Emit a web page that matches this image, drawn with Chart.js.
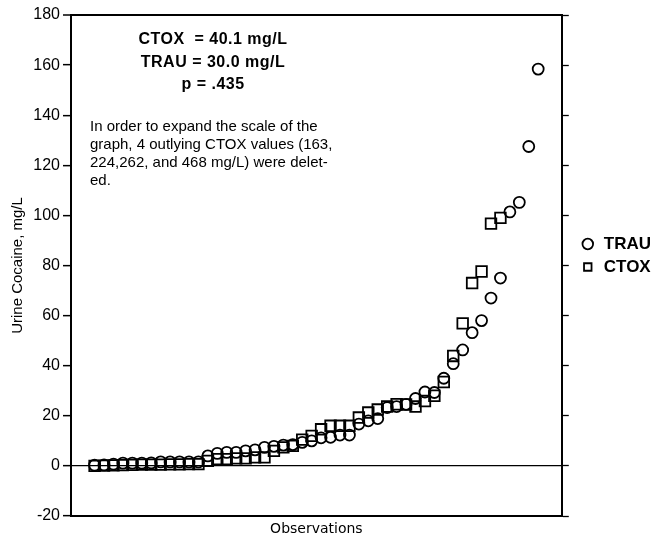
<!DOCTYPE html>
<html>
<head>
<meta charset="utf-8">
<script src="https://cdn.jsdelivr.net/npm/chart.js@4/dist/chart.umd.min.js"></script>
<style>
  html, body { margin: 0; padding: 0; background: #fff; }
  #wrap { width: 668px; height: 540px; }
</style>
</head>
<body>
<div id="wrap"><canvas id="urine"></canvas></div>
<script>
// sorted urine cocaine values, one point per observation
var trau = [0.3, 0.4, 0.7, 1.1, 1.1, 1.1, 1.2, 1.6, 1.6, 1.6, 1.6, 1.6,
  4, 5, 5.4, 5.4, 6, 6.4, 7.4, 7.8, 8.3, 8.5, 9.4, 10, 11.2, 11.4, 12.3, 12.3,
  16.7, 18, 18.9, 23.3, 23.7, 24.6, 26.9, 29.5, 29.3, 35, 40.8, 46.3, 53.2, 58,
  67, 75, 101.4, 105.2, 127.5, 158.4];
var ctox = [0, 0.1, 0.2, 0.3, 0.4, 0.5, 0.5, 0.5, 0.6, 0.6, 0.7, 0.7,
  2, 2.7, 2.7, 3, 3, 3.4, 3.4, 6, 7.4, 8, 10.5, 12, 14.6, 16, 16, 16,
  19.3, 21.3, 22.5, 23.7, 24.6, 24.5, 23.7, 25.9, 28, 33.5, 43.9, 56.9, 73,
  77.6, 96.7, 99];
var yTicks = [-20, 0, 20, 40, 60, 80, 100, 120, 140, 160, 180];

var statLines = ["CTOX  = 40.1 mg/L", "TRAU = 30.0 mg/L", "p = .435"];
var noteLines = ["In order to expand the scale of the",
  "graph, 4 outlying CTOX values (163,",
  "224,262, and 468 mg/L) were delet-",
  "ed."];

function toPoints(arr) {
  return arr.map(function (v, i) { return { x: i, y: v }; });
}

var notes = {
  id: "notes",
  afterLayout: function (chart) {
    // lift the legend a little, it sits above the middle in the original
    if (chart.legend) chart.legend.bottom -= 44;
  },
  afterDraw: function (chart) {
    var ctx = chart.ctx;
    var a = chart.chartArea;
    ctx.save();
    ctx.fillStyle = "#000";
    ctx.textBaseline = "middle";
    ctx.textAlign = "center";
    ctx.letterSpacing = "0.5px";
    ctx.font = "bold 16px 'Liberation Sans', Arial, sans-serif";
    statLines.forEach(function (t, i) {
      ctx.fillText(t, a.left + 142, a.top + 25 + i * 22.5);
    });
    ctx.textAlign = "left";
    ctx.letterSpacing = "0px";
    ctx.font = "15px 'Liberation Sans', Arial, sans-serif";
    noteLines.forEach(function (t, i) {
      ctx.fillText(t, a.left + 19, a.top + 112 + i * 18);
    });
    ctx.restore();
  }
};

var ctx = document.getElementById("urine").getContext("2d");
var urineChart = new Chart(ctx, {
  type: "scatter",
  data: {
    datasets: [
      {
        label: "TRAU",
        data: toPoints(trau),
        pointStyle: "circle",
        pointRadius: 5.5,
        pointBorderWidth: 1.8,
        borderColor: "#000",
        backgroundColor: "rgba(0,0,0,0)",
        pointBackgroundColor: "rgba(0,0,0,0)"
      },
      {
        label: "CTOX",
        data: toPoints(ctox),
        pointStyle: "rect",
        pointRadius: 7.5,
        pointBorderWidth: 1.8,
        borderColor: "#000",
        backgroundColor: "rgba(0,0,0,0)",
        pointBackgroundColor: "rgba(0,0,0,0)"
      }
    ]
  },
  options: {
    responsive: true,
    maintainAspectRatio: false,
    animation: false,
    layout: { padding: { top: 15, right: 7, left: 0, bottom: 0 } },
    plugins: {
      tooltip: { enabled: false },
      legend: {
        position: "right",
        labels: {
          usePointStyle: true,
          boxWidth: 15,
          boxHeight: 7.5,
          padding: 6,
          color: "#000",
          font: { family: "'Liberation Sans', Arial, sans-serif", size: 17, weight: "bold" }
        }
      }
    },
    scales: {
      x: {
        type: "linear",
        min: -2.5,
        max: 49.5,
        ticks: { display: false },
        grid: { display: true, drawOnChartArea: false, drawTicks: false, color: "rgba(0,0,0,0)" },
        border: { display: true, color: "#000", width: 2 },
        title: {
          display: true,
          text: "Observations",
          color: "#000",
          font: { family: "'DejaVu Sans', sans-serif", size: 14 },
          padding: { top: 0, bottom: 2 }
        },
        afterFit: function (s) { s.height = 24; }
      },
      y: {
        min: -20,
        max: 180,
        afterBuildTicks: function (s) {
          s.ticks = yTicks.map(function (v) { return { value: v }; });
        },
        ticks: {
          color: "#000",
          padding: 3,
          font: { family: "'Liberation Sans', Arial, sans-serif", size: 16 }
        },
        grid: {
          drawOnChartArea: true,
          tickLength: 8,
          tickColor: "#000",
          tickWidth: 1.5,
          color: function (c) {
            var v = c.tick && c.tick.value;
            return (v === 0 || v === 180) ? "#000" : "rgba(0,0,0,0)";
          },
          lineWidth: function (c) {
            return (c.tick && c.tick.value === 180) ? 2 : 1.3;
          }
        },
        border: { display: true, color: "#000", width: 2 },
        title: {
          display: true,
          text: "Urine Cocaine, mg/L",
          color: "#000",
          font: { family: "'Liberation Sans', Arial, sans-serif", size: 15 },
          padding: { top: 9, bottom: 0 }
        },
        afterFit: function (s) { s.width = 71; }
      },
      y2: {
        position: "right",
        min: -20,
        max: 180,
        afterBuildTicks: function (s) {
          s.ticks = yTicks.map(function (v) { return { value: v }; });
        },
        ticks: { display: false },
        grid: {
          drawOnChartArea: false,
          tickLength: 7,
          tickColor: "#000",
          tickWidth: 1.3
        },
        border: { display: true, color: "#000", width: 2 },
        afterFit: function (s) { s.width = 12.5; }
      }
    }
  },
  plugins: [notes]
});
</script>
</body>
</html>
